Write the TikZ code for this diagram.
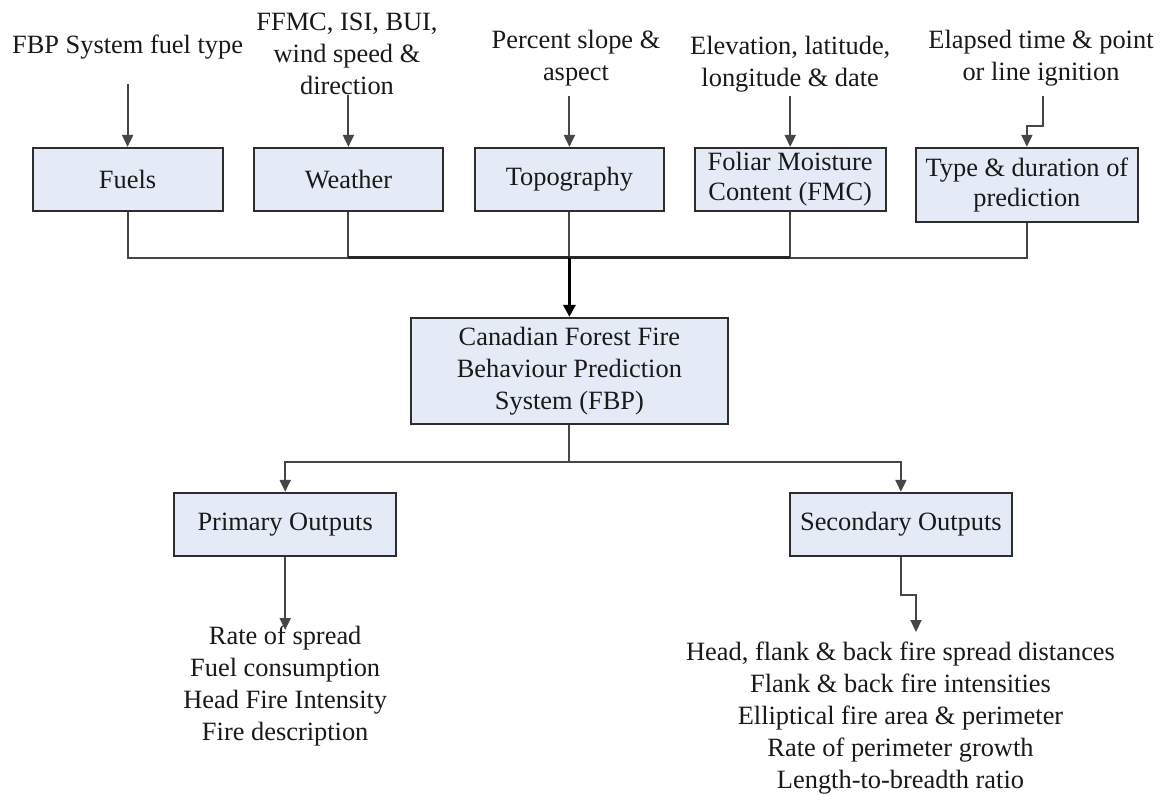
\documentclass[tikz,border=0pt]{standalone}
\usepackage{fontspec}
\setmainfont{Liberation Serif}
\usetikzlibrary{arrows.meta}
\definecolor{boxfill}{RGB}{229,235,246}
\definecolor{boxline}{RGB}{45,45,45}
\definecolor{linecol}{RGB}{70,70,70}
\definecolor{txt}{RGB}{25,25,25}
\begin{document}
\begin{tikzpicture}[x=1pt,y=-1pt,
  lbl/.style={inner sep=0pt, align=center, anchor=base, text=txt,
    font=\fontsize{26.4}{32}\selectfont},
  box/.style={draw=boxline, line width=2.2pt, fill=boxfill, inner sep=2pt,
    align=center, text=txt, font=\fontsize{26.4}{30}\selectfont,
    minimum height=63pt},
  conn/.style={draw=linecol, line width=2pt},
  mainbus/.style={draw=black!85, line width=2.8pt},
  arr/.style={conn, -{Triangle[length=12pt,width=11pt]}},
  thickarr/.style={draw=black, line width=3.4pt, -{Triangle[length=12pt,width=12pt]}}
]
\useasboundingbox[fill=white] (0,0) rectangle (1163,795);

% input labels (anchor = baseline of the last line)
\node[lbl] (t1) at (127.6,53) {FBP System fuel type};
\node[lbl] (t2) at (347,94) {FFMC, ISI, BUI,\\wind speed \&\\direction};
\node[lbl] (t3) at (576,80) {Percent slope \&\\aspect};
\node[lbl] (t4) at (790.2,86) {Elevation, latitude,\\longitude \& date};
\node[lbl] (t5) at (1041,80) {Elapsed time \& point\\or line ignition};

% top boxes
\node[box, minimum width=190pt] (fuels) at (127.6,179.5) {Fuels};
\node[box, minimum width=189pt] (weather) at (348.4,179.5) {Weather};
\node[box, minimum width=189pt] (topo) at (569.4,179.5) {Topography};
\node[box, minimum width=191pt] (fmc) at (790.2,179.5) {Foliar Moisture\\Content (FMC)};
\node[box, minimum width=222pt, minimum height=74pt] (type) at (1026.9,184.9) {Type \& duration of\\prediction};

% central box
\node[box, minimum width=317pt, minimum height=106pt,
  font=\fontsize{26.4}{32}\selectfont] (main) at (569.4,371)
  {Canadian Forest Fire\\Behaviour Prediction\\System (FBP)};

% output boxes
\node[box, minimum width=222pt] (prim) at (285.2,524.4) {Primary Outputs};
\node[box, minimum width=222pt] (sec) at (900.9,524.4) {Secondary Outputs};

% output lists (anchor = baseline of the last line)
\node[lbl] (l1) at (285.2,740) {Rate of spread\\Fuel consumption\\Head Fire Intensity\\Fire description};
\node[lbl] (l2) at (900.5,788) {Head, flank \& back fire spread distances\\Flank \& back fire intensities\\Elliptical fire area \& perimeter\\Rate of perimeter growth\\Length-to-breadth ratio};

% arrow start points
\coordinate (a1) at (127.6,84);
\coordinate (a2) at (348.4,95);
\coordinate (a3) at (569.4,96);
\coordinate (a4) at (790.2,96);
\coordinate (a5) at (1042.7,96);
\coordinate (busy) at (0,257.7);
\coordinate (b2) at (569.4,461.7);
\coordinate (o1) at (285.2,630);
\coordinate (o2) at (916,632);

% input arrows
\draw[arr] (a1) -- (fuels);
\draw[arr] (a2) -- (weather);
\draw[arr] (a3) -- (topo);
\draw[arr] (a4) -- (fmc);
\draw[arr] (a5) -- ++(0,30) -| (type.north);

% bus into central box
\draw[conn] (fuels.south) -- (fuels.south |- busy) -| (type.south);
\draw[conn] (weather.south) -- (weather.south |- busy);
\draw[conn] (topo.south) -- (topo.south |- busy);
\draw[conn] (fmc.south) -- (fmc.south |- busy);
\draw[mainbus] (weather.south |- busy) -- (fmc.south |- busy);
\draw[thickarr] (topo.south |- busy) -- (main.north);

% outputs
\draw[conn] (main.south) -- (b2);
\draw[arr] (b2) -| (prim.north);
\draw[arr] (b2) -| (sec.north);
\draw[arr] (prim.south) -- (o1);
\draw[arr] (sec.south) -- ++(0,38) -| (o2);
\end{tikzpicture}
\end{document}
